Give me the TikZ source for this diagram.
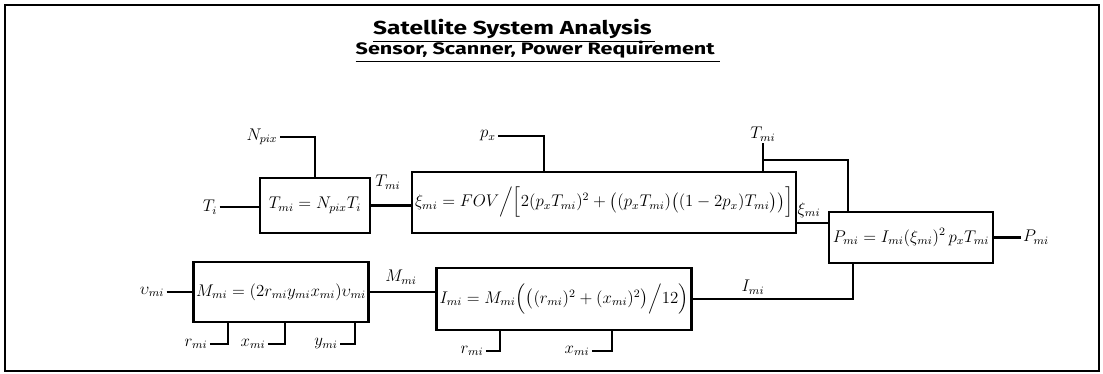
\documentclass[tikz,border=0pt]{standalone}
\usepackage{amsmath,amssymb}
\usepackage{fontspec}
\newfontfamily\headfont[FakeStretch=1.3]{Fira Sans}
\usepackage{tikz}
\usetikzlibrary{positioning,calc}

\begin{document}
\begin{tikzpicture}[x=0.025cm, y=-0.025cm,
    blk/.style={draw, line width=1.8pt, inner sep=2pt, font=\fontsize{12}{14}\selectfont},
    lbl/.style={inner sep=1.5pt, font=\fontsize{12}{14}\selectfont},
    wire/.style={line width=1.8pt},
    head/.style={inner sep=0pt, anchor=base, font=\headfont\bfseries\fontsize{13.4}{15}\selectfont}
]
\useasboundingbox (0,0) rectangle (1103,374);
\draw[line width=1.4pt] (5,5) rectangle (1099,371);

\node[head] (ttl) at (514,35) {\underline{Satellite System Analysis\,}};
\node[head, font=\headfont\bfseries\fontsize{11.8}{14}\selectfont] (sub) at (538,55) {\underline{Sensor, Scanner, Power Requirement\,\,}};

% blocks
\node[blk, minimum width=2.75cm, minimum height=1.375cm] (tmi) at (315,205.5) {$T_{mi} = N_{pix}T_i$};
\node[blk, minimum width=9.2cm, minimum height=1.525cm] (xi) at (604,202.5) {$\xi_{mi} = FOV\Big/\Big[2(p_xT_{mi})^2 + \big((p_xT_{mi})\big((1-2p_x)T_{mi}\big)\big)\Big]$};
\node[blk, minimum width=4.1cm, minimum height=1.275cm] (pmi) at (911,237.5) {$P_{mi} = I_{mi}(\xi_{mi})^2\,p_xT_{mi}$};
\node[blk, minimum width=4.3cm, minimum height=1.5cm] (mmi) at (281,292) {$M_{mi} = (2r_{mi}y_{mi}x_{mi})\upsilon_{mi}$};
\node[blk, minimum width=6.1cm, minimum height=1.55cm] (imi) at (564,299) {$I_{mi} = M_{mi}\Big(\big((r_{mi})^2 + (x_{mi})^2\big)\Big/12\Big)$};

% inputs and outputs
\node[lbl] (ti) at (210,207) {$T_i$};
\node[lbl] (npix) at (262,137) {$N_{pix}$};
\node[lbl] (px) at (488,136) {$p_x$};
\node[lbl] (tm) at (763,134) {$T_{mi}$};
\node[lbl] (vmi) at (152,292) {$\upsilon_{mi}$};
\node[lbl] (pout) at (1036,237) {$P_{mi}$};
\node[lbl] (rb1) at (196,344) {$r_{mi}$};
\node[lbl] (xb1) at (253,344) {$x_{mi}$};
\node[lbl] (yb1) at (326,344) {$y_{mi}$};
\node[lbl] (rb2) at (472,351) {$r_{mi}$};
\node[lbl] (xb2) at (577,351) {$x_{mi}$};

\node[lbl] (ltm) at (388,182) {$T_{mi}$};
\node[lbl] (lxi) at (809,210) {$\xi_{mi}$};
\node[lbl] (lmm) at (401,277) {$M_{mi}$};
\node[lbl] (lim) at (753,287) {$I_{mi}$};

\coordinate (pxcol) at (544,0);
\coordinate (tj) at (763,160);
\coordinate (tcol) at (848,0);
\coordinate (xirow) at (0,223);
\coordinate (icol) at (853,0);
\coordinate (c1) at (228,0);
\coordinate (c2) at (285,0);
\coordinate (c3) at (355,0);
\coordinate (c4) at (500,0);
\coordinate (c5) at (612,0);

% connectors
\draw[wire] (ti) -- (tmi.west |- ti);
\draw[wire] (npix) -| (tmi.north);
\draw[wire] (tmi.east) -- (xi.west |- tmi.east);
\draw[wire] (px) -| (pxcol |- xi.north);
\draw[wire] (tm) -- (tm |- xi.north);
\draw[wire] (tj) -| (tcol |- pmi.north);
\draw[wire] (xi.east |- xirow) -- (pmi.west |- xirow);
\draw[wire] (pmi.east) -- (pout.west |- pmi.east);
\draw[wire] (vmi) -- (mmi.west |- vmi);
\draw[wire] (mmi.east) -- (imi.west |- mmi.east);
\draw[wire] (imi.east) -| (icol |- pmi.south);
\draw[wire] (rb1) -| (c1 |- mmi.south);
\draw[wire] (xb1) -| (c2 |- mmi.south);
\draw[wire] (yb1) -| (c3 |- mmi.south);
\draw[wire] (rb2) -| (c4 |- imi.south);
\draw[wire] (xb2) -| (c5 |- imi.south);
\end{tikzpicture}
\end{document}
